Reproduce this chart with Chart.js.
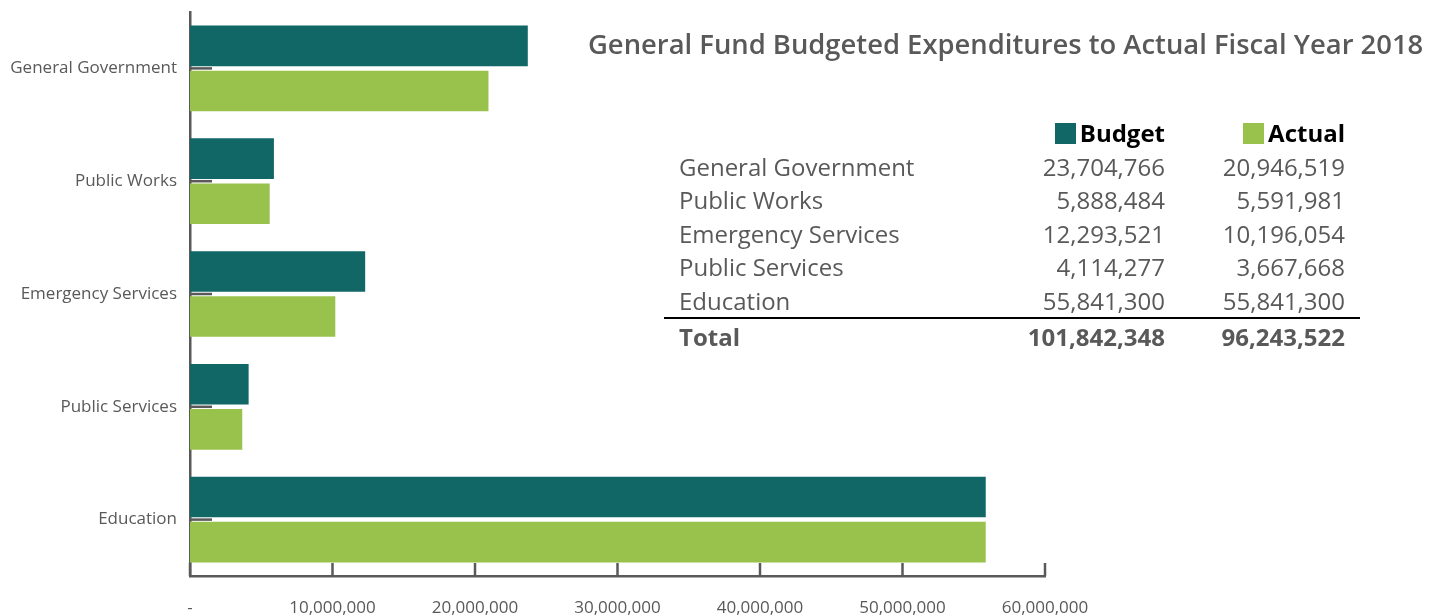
<!DOCTYPE html>
<html><head><meta charset="utf-8">
<script src="https://cdn.jsdelivr.net/npm/chart.js@4"></script>
<style>
html,body{margin:0;padding:0;background:#fff;overflow:hidden}
#wrap{position:relative;width:1441px;height:616px;font-family:'Open Sans',sans-serif}
#chart{position:absolute;left:0;top:0}
#title{position:absolute;left:588px;top:25px;font-weight:600;font-size:27.4px;line-height:38px;color:#595959;white-space:nowrap}
#tbl{position:absolute;left:664px;top:116px;border-collapse:collapse;font-size:24px;color:#595959}
#tbl td{padding:0;height:33.5px;line-height:33.5px;white-space:nowrap}
#tbl td.l{width:321px;padding-left:15px}
#tbl td.n{width:165px;text-align:right;padding-right:15px}
#tbl tr.h td{color:#000;font-weight:700}
#tbl tr.t td{border-top:2px solid #000;font-weight:700;height:36px;line-height:36px}
.sw{display:inline-block;width:21px;height:21px;vertical-align:-2px;margin-right:4px}
</style></head>
<body><div id="wrap"><canvas id="chart" width="1441" height="616"></canvas>
<div id="title">General Fund Budgeted Expenditures to Actual Fiscal Year 2018</div>
<table id="tbl"></table></div>
<script>
const categories = ['General Government','Public Works','Emergency Services','Public Services','Education'];
const budget = [23704766, 5888484, 12293521, 4114277, 55841300];
const actual = [20946519, 5591981, 10196054, 3667668, 55841300];
const seriesNames = ['Budget','Actual'];
const colors = ['#116666','#99C24C'];
const xTicks = [0,10000000,20000000,30000000,40000000,50000000,60000000];
const fmt = v => v.toLocaleString('en-US');

// table
const tbl = document.getElementById('tbl');
let html = '<tr class="h"><td class="l"></td>' + seriesNames.map((s,i)=>'<td class="n"><span class="sw" style="background:'+colors[i]+'"></span>'+s+'</td>').join('') + '</tr>';
categories.forEach((c,i)=>{ html += '<tr><td class="l">'+c+'</td><td class="n">'+fmt(budget[i])+'</td><td class="n">'+fmt(actual[i])+'</td></tr>'; });
const sum = a => a.reduce((s,v)=>s+v,0);
html += '<tr class="t"><td class="l">Total</td><td class="n">'+fmt(sum(budget))+'</td><td class="n">'+fmt(sum(actual))+'</td></tr>';
tbl.innerHTML = html;

const tickMarks = {
  id:'tickMarks',
  afterDatasetsDraw(chart){
    const ctx = chart.ctx, x = chart.scales.x, y = chart.scales.y, a = chart.chartArea;
    ctx.save(); ctx.strokeStyle = '#595959'; ctx.lineWidth = 2.5;
    y.ticks.forEach((t,i)=>{ const py = y.getPixelForTick(i); ctx.beginPath(); ctx.moveTo(a.left, py); ctx.lineTo(a.left+22, py); ctx.stroke(); });
    xTicks.forEach(v=>{ const px = x.getPixelForValue(v); ctx.beginPath(); ctx.moveTo(px, a.bottom); ctx.lineTo(px, a.bottom-13); ctx.stroke(); });
    ctx.restore();
  }
};

new Chart(document.getElementById('chart'), {
  type:'bar',
  data:{ labels:categories, datasets:[
    {label:seriesNames[0], data:budget, backgroundColor:colors[0]},
    {label:seriesNames[1], data:actual, backgroundColor:colors[1]}
  ]},
  options:{
    indexAxis:'y', responsive:false, animation:false, devicePixelRatio:1,
    layout:{padding:{left:0,top:12,right:396,bottom:0}},
    plugins:{legend:{display:false}, tooltip:{enabled:false}},
    scales:{
      x:{ min:0, max:60000000,
        afterBuildTicks(s){ s.ticks = xTicks.map(v=>({value:v})); },
        afterFit(s){ s.height = 40; s.paddingLeft = 0; s.paddingRight = 0; },
        ticks:{ callback:v=> v===0 ? '-' : fmt(v), color:'#595959', font:{family:'Open Sans',size:17}, padding:22, maxRotation:0, autoSkip:false },
        grid:{display:false, drawTicks:false},
        border:{display:true, color:'#595959', width:2.5}
      },
      y:{
        afterFit(s){ s.width = 190; s.paddingTop = 0; s.paddingBottom = 0; },
        ticks:{ color:'#595959', font:{family:'Open Sans',size:17}, padding:13 },
        grid:{display:false, drawTicks:false},
        border:{display:true, color:'#595959', width:2.5}
      }
    }
  },
  plugins:[tickMarks]
});
</script></body></html>
